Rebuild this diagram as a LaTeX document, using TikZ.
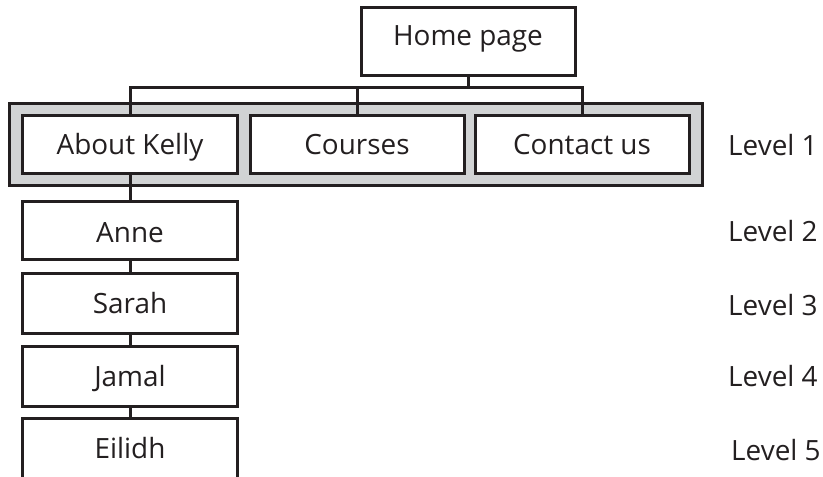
\documentclass[tikz,border=0pt]{standalone}
\usepackage{fontspec}
\setmainfont{Open Sans}
\definecolor{ink}{RGB}{35,31,32}
\definecolor{panel}{RGB}{209,211,212}
\begin{document}
\begin{tikzpicture}[x=1bp,y=-1bp,
  every node/.style={font=\fontsize{28}{32}\selectfont, text=ink},
  pagebox/.style={draw=ink, fill=white, line width=3bp, inner sep=0pt, minimum width=214bp, minimum height=58bp, text height=20bp, text depth=0pt},
  link/.style={draw=ink, line width=3bp},
  lvl/.style={anchor=west, inner sep=0pt, text height=20bp, text depth=0pt}]
\useasboundingbox (0,0) rectangle (823,477);
\node[pagebox, minimum height=68bp] (home) at (468,42) {\raisebox{6bp}{Home page}};
\node[draw=ink, fill=panel, line width=3bp, inner sep=0pt, minimum width=692bp, minimum height=82bp] (group) at (356,145) {};
\node[pagebox] (about) at (130,144.5) {About Kelly};
\node[pagebox] (courses) at (357,144.5) {Courses};
\node[pagebox] (contact) at (582,144.5) {Contact us};
\node[pagebox] (anne) at (130,231) {\raisebox{-2bp}{Anne}};
\node[pagebox, minimum height=60bp] (sarah) at (130,303.5) {Sarah};
\node[pagebox, minimum height=60bp] (jamal) at (130,376) {Jamal};
\node[pagebox, minimum height=66bp] (eilidh) at (130,451) {\raisebox{2.5bp}{Eilidh}};
\coordinate (j) at (468,88);
\draw[link] (home.south) -- (j);
\draw[link] (about.north) |- (j) -| (contact.north);
\draw[link] (courses.north) -- (courses.north |- j);
\draw[link] (about.south) -- (anne.north);
\draw[link] (anne.south) -- (sarah.north);
\draw[link] (sarah.south) -- (jamal.north);
\draw[link] (jamal.south) -- (eilidh.north);
\node[lvl] (l1) at (728,146) {Level 1};
\node[lvl] (l2) at (728,231.7) {Level 2};
\node[lvl] (l3) at (728,305) {Level 3};
\node[lvl] (l4) at (728,376.7) {Level 4};
\node[lvl] (l5) at (731,450) {Level 5};
\end{tikzpicture}
\end{document}
